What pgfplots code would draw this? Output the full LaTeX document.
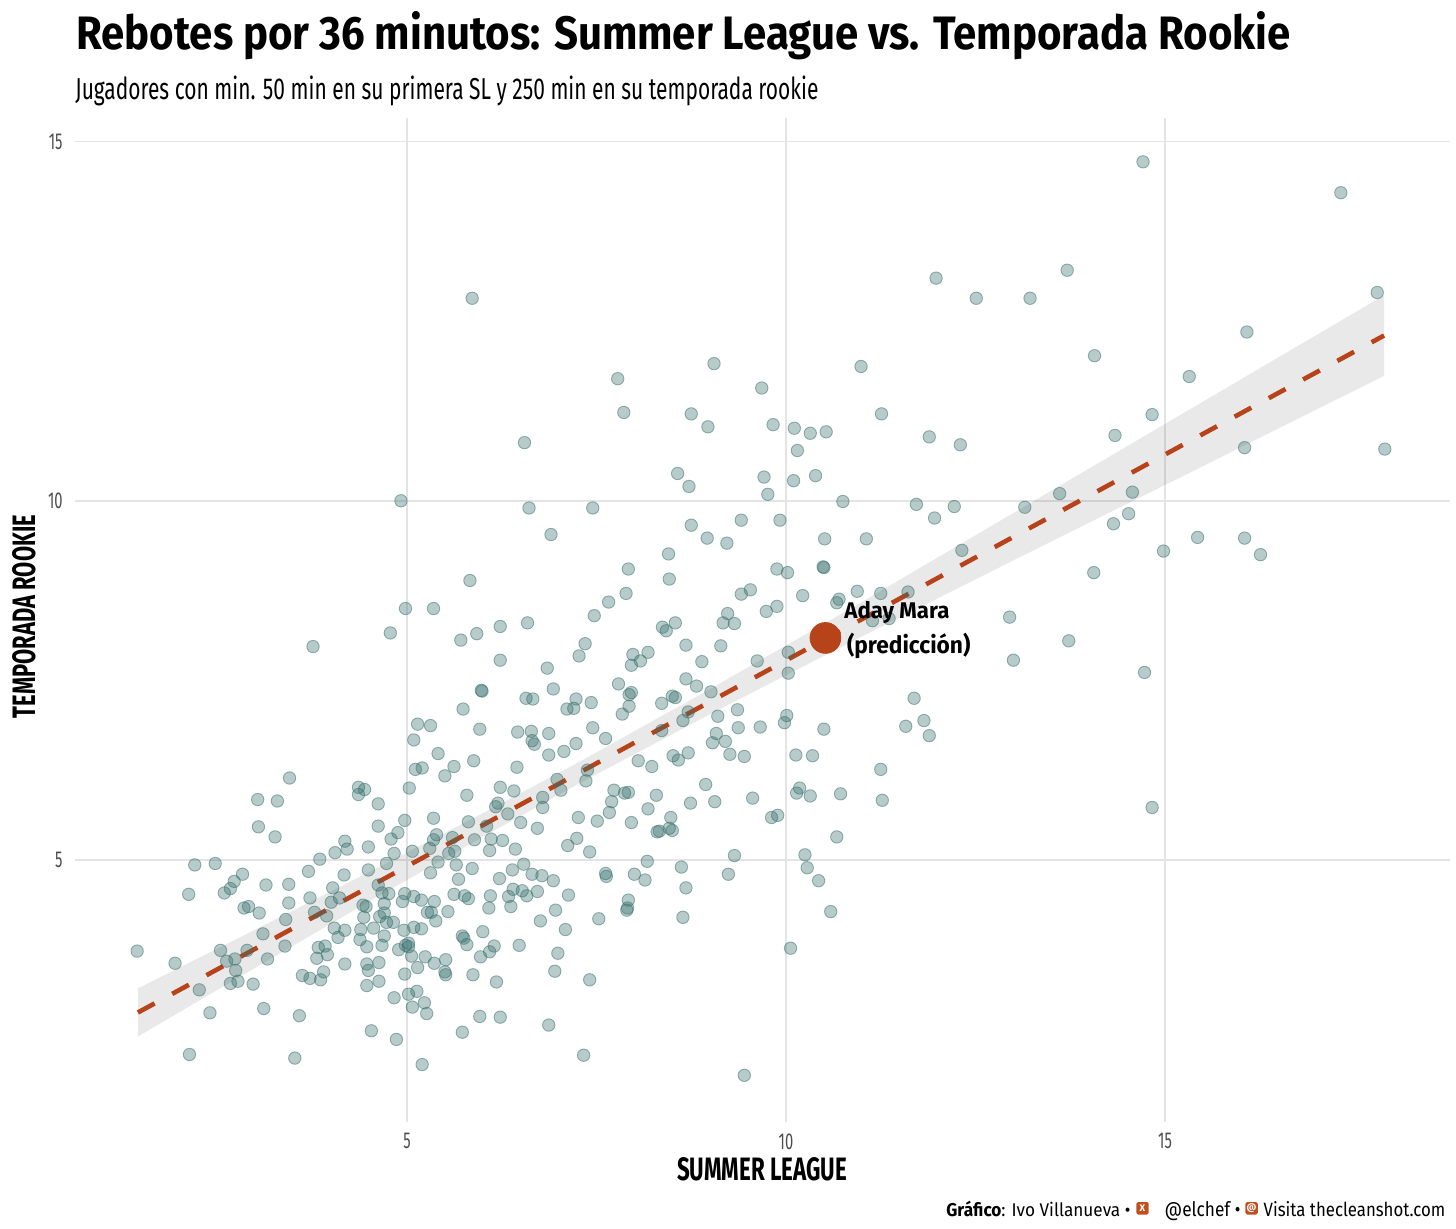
\documentclass[border=0pt]{standalone}
\usepackage{pgfplots}
\pgfplotsset{compat=1.18}
\usepackage{fontspec}
\setmainfont{Fira Sans}
\newfontfamily\condf[FakeStretch=0.64]{Fira Sans}
\usepackage{graphicx}
\definecolor{ptcol}{RGB}{53,110,107}
\definecolor{rust}{RGB}{183,67,27}
\definecolor{gridc}{RGB}{228,228,228}
\definecolor{tickc}{RGB}{77,77,77}
\definecolor{iconc}{RGB}{192,80,30}
\begin{document}
\begin{tikzpicture}
\useasboundingbox (0,0) rectangle (728pt,614pt);
\begin{axis}[
  at={(37.5pt,53pt)}, anchor=south west, scale only axis,
  width=687.5pt, height=502pt,
  xmin=0.62, xmax=18.76, ymin=1.35, ymax=15.33,
  axis line style={draw=none},
  major tick length=0pt,
  xtick={5,10,15}, ytick={5,10,15},
  grid=major, major grid style={gridc, line width=0.8pt},
  /pgf/number format/assume math mode=true,
  tick label style={font=\condf\fontsize{11.5}{12}\selectfont, text=tickc},
  xticklabel style={anchor=north, inner sep=0pt, yshift=-5.5pt},
  yticklabel style={anchor=east, inner sep=0pt, xshift=-6pt},
]
% points
\addplot[only marks, mark=*, mark size=3.1pt, draw=ptcol, fill=ptcol, fill opacity=0.36, draw opacity=0.5, line width=0.45pt] coordinates {
(3.45,6.14)(3.03,5.84)(3.29,5.82)(3.04,5.46)(3.26,5.32)(4.36,6.01)(4.44,5.98)(4.36,5.91)(4.62,5.78)(4.62,5.47)
(4.79,5.29)(4.88,5.38)(4.97,5.55)(4.18,5.26)(4.21,5.15)(4.49,5.18)(4.05,5.10)(3.85,5.01)(4.83,5.09)(4.73,4.95)
(4.49,4.86)(4.17,4.79)(3.70,4.84)(2.20,4.93)(2.47,4.95)(2.83,4.80)(2.72,4.70)(2.59,4.54)(2.67,4.60)(2.12,4.52)
(3.14,4.65)(3.44,4.66)(3.44,4.40)(3.72,4.47)(4.02,4.61)(4.00,4.41)(4.11,4.47)(4.62,4.65)(4.67,4.54)(4.76,4.53)
(4.97,4.53)(4.94,4.42)(2.85,4.33)(2.91,4.35)(3.05,4.26)(3.40,4.17)(3.78,4.27)(3.94,4.22)(4.42,4.37)(4.46,4.35)
(4.70,4.39)(4.43,4.20)(4.64,4.21)(4.70,4.26)(4.82,4.13)(4.04,4.05)(4.18,4.02)(4.09,3.92)(4.39,4.03)(4.56,4.05)
(4.73,4.13)(4.96,4.02)(4.38,3.89)(4.70,3.94)(4.47,3.79)(4.67,3.81)(4.89,3.75)(4.98,3.81)(3.10,3.97)(3.39,3.80)
(2.54,3.74)(2.89,3.74)(2.62,3.59)(2.73,3.62)(3.16,3.62)(3.83,3.78)(3.92,3.80)(3.81,3.63)(3.95,3.68)(1.44,3.73)
(1.94,3.56)(2.74,3.46)(2.67,3.28)(2.77,3.31)(2.97,3.27)(2.26,3.19)(3.62,3.39)(3.72,3.35)(3.86,3.33)(3.90,3.44)
(4.18,3.55)(4.47,3.55)(4.49,3.46)(4.63,3.57)(4.47,3.25)(4.63,3.31)(4.97,3.41)(2.40,2.87)(3.11,2.93)(3.58,2.83)
(4.83,3.08)(4.53,2.62)(4.86,2.50)(2.13,2.29)(3.52,2.24)
(5.74,7.10)(5.14,6.89)(5.31,6.87)(5.09,6.67)(5.96,6.82)(6.46,6.78)(6.64,6.79)(6.65,6.66)(6.68,6.61)(6.87,6.76)
(5.41,6.48)(5.11,6.26)(5.20,6.28)(5.50,6.17)(5.62,6.30)(5.88,6.38)(5.03,6.00)(6.45,6.29)(6.87,6.46)(7.07,6.51)
(7.23,6.62)(7.45,6.84)(7.62,6.69)(7.84,7.03)(7.93,7.14)(7.11,7.10)(7.20,7.11)(7.43,7.19)(8.05,6.38)(8.23,6.30)
(7.38,6.25)(7.36,6.10)(7.03,5.97)(6.98,6.12)(6.23,6.01)(6.41,5.96)(5.79,5.90)(6.17,5.74)(6.20,5.79)(6.33,5.64)
(6.79,5.87)(6.79,5.73)(6.50,5.52)(6.72,5.44)(7.73,5.97)(7.70,5.81)(7.67,5.66)(7.87,5.93)(7.92,5.94)(8.29,5.90)
(8.18,5.71)(7.96,5.52)(7.51,5.54)(7.26,5.59)(7.24,5.30)(7.12,5.20)(7.41,5.11)(8.30,5.39)(5.35,5.58)(5.81,5.53)
(6.05,5.47)(5.39,5.35)(5.35,5.28)(5.60,5.31)(5.89,5.28)(6.11,5.29)(6.26,5.27)(6.09,5.13)(6.43,5.15)(5.07,5.12)
(5.30,5.16)(5.55,5.09)(5.63,5.12)(5.41,4.97)(5.65,4.93)(5.31,4.82)(5.68,4.73)(5.86,4.88)(6.22,4.74)(6.39,4.86)
(6.54,4.94)(6.65,4.80)(6.78,4.78)(6.93,4.71)(8.17,4.98)(8.00,4.80)(8.14,4.72)(7.62,4.81)(7.63,4.77)(5.62,4.52)
(5.76,4.50)(5.81,4.46)(6.10,4.50)(6.34,4.49)(6.40,4.59)(6.52,4.57)(6.58,4.50)(6.72,4.56)(7.13,4.51)(6.37,4.35)
(6.08,4.33)(5.19,4.44)(5.36,4.42)(5.09,4.49)(5.27,4.27)(5.32,4.27)(5.38,4.15)(5.54,4.28)(5.09,4.06)(5.19,4.04)
(6.96,4.30)(6.76,4.15)(7.09,4.03)(7.53,4.18)(7.92,4.44)(7.90,4.30)(7.91,4.33)(6.00,4.00)(5.73,3.94)(5.75,3.91)
(5.79,3.82)(6.15,3.80)(6.09,3.72)(5.97,3.65)(6.48,3.81)(6.99,3.70)(6.95,3.45)(7.41,3.33)(5.02,3.84)(5.02,3.79)
(5.06,3.66)(5.24,3.65)(5.14,3.50)(5.36,3.56)(5.51,3.61)(5.50,3.44)(5.51,3.40)(5.87,3.40)(6.18,3.30)(5.13,3.17)
(5.23,3.01)(5.07,2.95)(5.26,2.86)(5.02,3.13)(5.96,2.82)(6.23,2.81)(5.73,2.60)(6.87,2.70)(7.33,2.28)(5.20,2.15)
(8.36,7.18)(8.71,7.06)(8.64,6.94)(8.36,6.80)(9.10,7.00)(9.36,7.09)(9.37,6.84)(9.66,6.85)(9.08,6.76)(9.03,6.63)
(9.20,6.65)(9.26,6.47)(9.45,6.44)(8.51,6.45)(8.58,6.39)(8.71,6.49)(10.01,7.01)(9.98,6.91)(10.50,6.82)(10.13,6.46)
(10.35,6.45)(11.69,7.25)(11.58,6.86)(11.82,6.94)(11.89,6.73)(11.25,6.26)(11.27,5.83)(8.94,6.05)(8.74,5.79)(9.06,5.81)
(9.56,5.86)(10.18,6.00)(10.14,5.93)(10.32,5.89)(10.72,5.92)(9.81,5.59)(9.89,5.62)(8.48,5.59)(8.33,5.40)(8.46,5.44)
(8.50,5.41)(10.67,5.32)(9.32,5.06)(10.25,5.07)(8.62,4.90)(9.24,4.80)(10.28,4.89)(10.43,4.71)(8.68,4.61)(10.59,4.28)
(8.64,4.20)(10.06,3.77)(9.45,2.00)
(4.92,10.00)(4.98,8.50)(4.78,8.16)(3.76,7.97)
(7.78,11.70)(7.86,11.23)(8.75,11.21)(8.97,11.03)(6.55,10.81)(8.57,10.38)(8.72,10.20)(6.61,9.90)(7.45,9.90)(6.90,9.53)
(8.75,9.66)(8.96,9.48)(9.22,9.41)(8.45,9.26)(7.92,9.05)(8.46,8.91)(5.83,8.89)(7.89,8.71)(7.66,8.59)(5.35,8.50)
(7.47,8.40)(9.23,8.43)(9.17,8.30)(6.59,8.30)(6.23,8.25)(5.92,8.15)(5.71,8.06)(8.37,8.24)(8.42,8.19)(8.54,8.30)
(8.68,7.99)(9.14,7.98)(7.35,8.01)(7.27,7.84)(6.23,7.78)(6.85,7.67)(7.98,7.86)(8.08,7.77)(8.18,7.89)(7.96,7.71)
(8.89,7.76)(8.68,7.52)(8.82,7.42)(9.01,7.34)(7.79,7.45)(7.96,7.33)(7.93,7.30)(6.93,7.38)(5.98,7.36)(5.99,7.35)
(6.57,7.25)(6.66,7.24)(7.23,7.24)(8.50,7.28)(8.54,7.26)
(9.68,11.57)(9.83,11.06)(10.11,11.01)(10.32,10.94)(10.53,10.96)(11.26,11.21)(11.89,10.89)(12.30,10.78)(10.15,10.70)(9.71,10.33)
(10.10,10.28)(10.39,10.35)(9.76,10.09)(10.75,9.99)(11.72,9.95)(12.22,9.92)(13.15,9.91)(11.96,9.76)(9.41,9.73)(9.92,9.73)
(10.51,9.47)(11.06,9.47)(12.32,9.31)(9.88,9.05)(10.02,9.00)(10.49,9.08)(10.50,9.07)(9.41,8.70)(9.53,8.76)(10.22,8.68)
(10.94,8.74)(11.25,8.71)(11.61,8.73)(10.70,8.63)(10.67,8.58)(9.74,8.46)(9.88,8.53)(9.32,8.29)(11.14,8.33)(11.36,8.36)
(12.95,8.38)(9.62,7.77)(10.03,7.89)(13.00,7.78)(10.03,7.60)
(5.86,12.82)(9.05,11.91)(10.99,11.87)(11.98,13.10)(12.51,12.82)(13.22,12.82)
(14.71,14.72)(17.32,14.29)(13.71,13.21)(17.80,12.90)(16.08,12.35)(14.07,12.02)(15.32,11.73)(14.83,11.20)(14.34,10.91)(16.05,10.74)
(17.90,10.72)(13.61,10.10)(14.57,10.12)(14.52,9.82)(14.32,9.68)(15.43,9.49)(16.05,9.48)
(14.98,9.30)(16.26,9.25)(14.06,9.00)(13.73,8.05)(14.73,7.61)(14.83,5.73)
};
% confidence band
\addplot[draw=none, fill=black, fill opacity=0.085] coordinates {
(1.45,3.21)(3,4.03)(4.5,4.83)(6,5.65)(7.3,6.38)(9,7.38)(11,8.59)(13,9.83)(15,11.07)(16.5,12.00)(17.89,12.86)
(17.89,11.74)(16.5,11.01)(15,10.22)(13,9.17)(11,8.11)(9,7.03)(7.3,6.08)(6,5.32)(4.5,4.42)(3,3.50)(1.45,2.54)
} -- cycle;
% regression line
\addplot[rust, line width=2.3pt, dash pattern=on 9.5pt off 10pt] coordinates {(1.45,2.875) (17.89,12.301)};
% highlighted prediction
\addplot[only marks, mark=*, mark size=7.7pt, draw=rust, fill=rust] coordinates {(10.52,8.09)};
\end{axis}
% label of the highlighted point
\node[anchor=base west, inner sep=0pt] at (422pt,304.85pt) {\resizebox{52.5pt}{8.6pt}{\bfseries Aday Mara}};
\node[anchor=base west, inner sep=0pt] at (423.3pt,287.4pt) {\resizebox{61.7pt}{10.2pt}{\bfseries (predicción)}};
% titles
\node[anchor=base west, inner sep=0pt] at (38pt,589.4pt) {\resizebox{607pt}{19pt}{\bfseries Rebotes por 36 minutos: Summer League vs. Temporada Rookie}};
\node[anchor=base west, inner sep=0pt] at (37.5pt,564pt) {\resizebox{371.5pt}{11.8pt}{Jugadores con min. 50 min en su primera SL y 250 min en su temporada rookie}};
% axis titles
\node[anchor=base, inner sep=0pt] at (381pt,24pt) {\resizebox{85pt}{11.5pt}{\bfseries SUMMER LEAGUE}};
\node[anchor=base, rotate=90, inner sep=0pt] at (17.5pt,305.75pt) {\resizebox{101.5pt}{11.5pt}{\bfseries TEMPORADA ROOKIE}};
% caption
\node[anchor=base west, inner sep=0pt] at (473pt,5.85pt) {\resizebox{92pt}{7.7pt}{\textbf{Gráfico}: Ivo Villanueva •}};
\node[fill=iconc, rounded corners=0.8pt, minimum size=6.2pt, inner sep=0pt, text=white, font=\bfseries\fontsize{4.8}{5}\selectfont] at (571.25pt,9.85pt) {X};
\node[anchor=base west, inner sep=0pt] at (582.15pt,5.85pt) {\resizebox{37.85pt}{7.5pt}{@elchef •}};
\node[fill=iconc, rounded corners=0.8pt, minimum size=6.2pt, inner sep=0pt, text=white, font=\bfseries\fontsize{4.8}{5}\selectfont] at (625.8pt,9.85pt) {@};
\node[anchor=base west, inner sep=0pt] at (631.65pt,5.85pt) {\resizebox{90.8pt}{7.5pt}{Visita thecleanshot.com}};
\end{tikzpicture}
\end{document}
